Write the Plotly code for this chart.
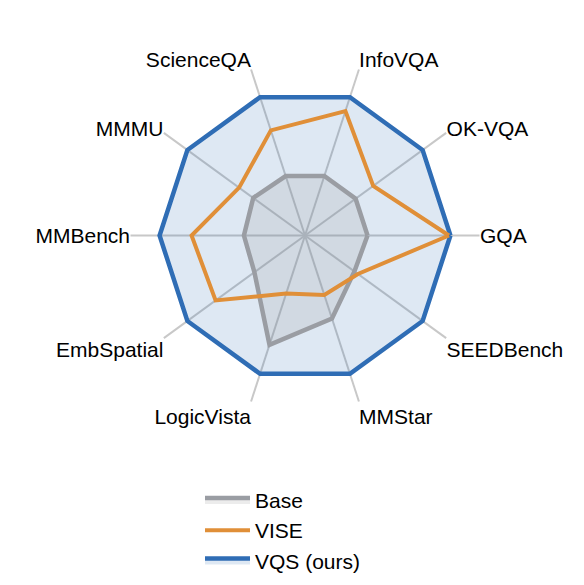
import plotly.graph_objects as go

axes_names = ["GQA", "OK-VQA", "InfoVQA", "ScienceQA", "MMMU", "MMBench",
              "EmbSpatial", "LogicVista", "MMStar", "SEEDBench"]
base = [0.43, 0.43, 0.43, 0.43, 0.44, 0.42, 0.43, 0.79, 0.60, 0.42]
vise = [0.99, 0.58, 0.90, 0.76, 0.56, 0.78, 0.76, 0.42, 0.43, 0.45]
vqs = [1.0] * 10

def closed(v):
    return v + v[:1]

theta = closed(axes_names)

fig = go.Figure()
fig.add_trace(go.Scatterpolar(r=closed(vqs), theta=theta, name="VQS (ours)", mode="lines",
                              line=dict(color="#2f6db5", width=4.5), fill="toself",
                              fillcolor="rgba(47,109,181,0.16)"))
fig.add_trace(go.Scatterpolar(r=closed(base), theta=theta, name="Base", mode="lines",
                              line=dict(color="#9a9da3", width=4.5), fill="toself",
                              fillcolor="rgba(150,150,150,0.18)"))
fig.add_trace(go.Scatterpolar(r=closed(vise), theta=theta, name="VISE", mode="lines",
                              line=dict(color="#e08f38", width=4)))

fig.update_layout(
    width=584, height=585,
    paper_bgcolor="white",
    font=dict(family="Liberation Sans, Arial", size=21, color="black"),
    margin=dict(l=105, r=95, t=53, b=148),
    polar=dict(
        bgcolor="white",
        radialaxis=dict(range=[0, 1.2], visible=False),
        angularaxis=dict(rotation=0, direction="counterclockwise", showline=False,
                         gridcolor="#c8c8c8", gridwidth=1.5, ticks="",
                         tickfont=dict(size=21)),
    ),
    legend=dict(orientation="h", x=0.5, xanchor="center", y=-0.2, yanchor="top",
                traceorder="normal", font=dict(size=21), itemwidth=45,
                entrywidth=150, entrywidthmode="pixels"),
)
# legend order: Base, VISE, VQS
fig.data[0].legendrank = 3
fig.data[1].legendrank = 1
fig.data[2].legendrank = 2

fig.write_html("out.html")
